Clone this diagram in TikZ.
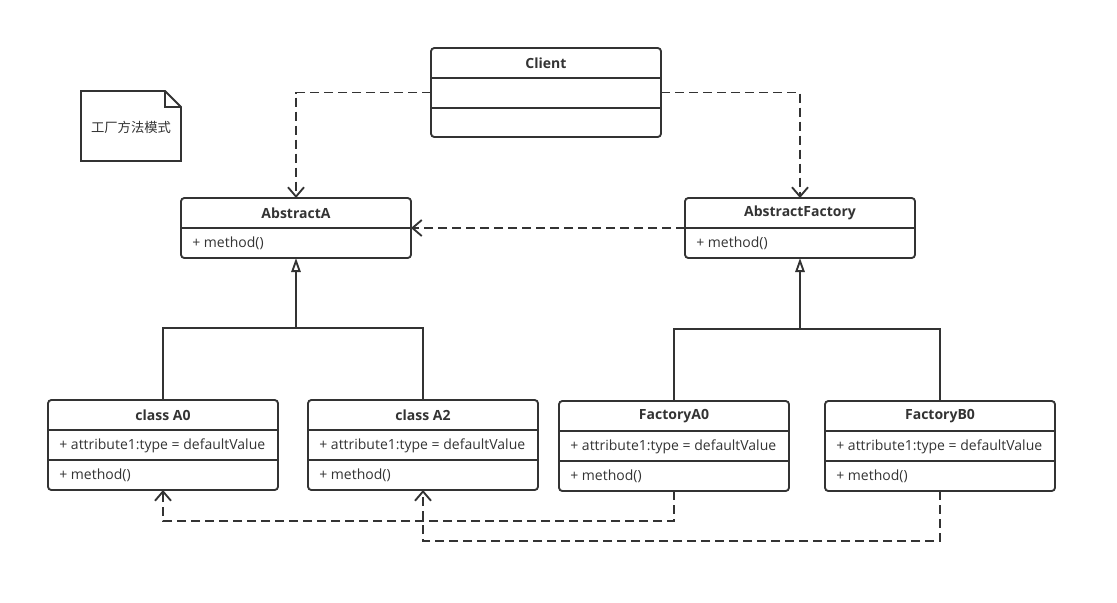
\documentclass[tikz,border=0pt]{standalone}
\usepackage{fontspec}
\setmainfont{Open Sans}
\newfontfamily\cjk{Noto Sans CJK SC}
\usetikzlibrary{arrows.meta,positioning}
\definecolor{umlline}{HTML}{333333}

\begin{document}
\begin{tikzpicture}[
			x = 0.75pt, y = -0.75pt,
			every node/.style = {inner sep = 0pt, outer sep = 0pt, text = umlline},
			classbox/.style = {draw = umlline, line width = 1.4pt, rounded corners = 2.5pt,
				anchor = north west, minimum width = 172.5pt},
			title/.style = {font = \fontsize{10.5}{12}\selectfont\bfseries},
			member/.style = {font = \fontsize{10.5}{12}\selectfont, anchor = west},
			sep/.style = {umlline, line width = 1.4pt},
			dep/.style = {sep, dash pattern = on 7pt off 3.5pt,
				-{Straight Barb[length = 7pt, width = 12pt, line width = 1.4pt]}},
			gen/.style = {sep, -{Triangle[open, length = 10.5pt, width = 7pt, line width = 1.4pt]}}
			]

			\useasboundingbox (0,0) rectangle (1117,603);

			% note
			\draw[sep] (81,91) -- (165,91) -- (181,107) -- (181,161) -- (81,161) -- cycle;
			\draw[sep] (165,91) -- (165,107) -- (181,107);
			\node[font = \cjk\fontsize{10}{12}\selectfont] (note) at (131,127) {工厂方法模式};

			% client
			\node[classbox, minimum height = 66.75pt] (client) at (431,48) {};
			\node[title] at ([yshift = -11.5pt]client.north) {Client};
			\draw[sep] ([yshift = -22.5pt]client.north west) -- ([yshift = -22.5pt]client.north east);
			\draw[sep] ([yshift = -45pt]client.north west) -- ([yshift = -45pt]client.north east);

			% abstract classes
			\foreach \n/\x/\t in {abstractA/181/AbstractA, factory/685/AbstractFactory}{
				\node[classbox, minimum height = 45pt] (\n) at (\x,198) {};
				\node[title] at ([yshift = -11.5pt]\n.north) {\t};
				\draw[sep] ([yshift = -22.5pt]\n.north west) -- ([yshift = -22.5pt]\n.north east);
				\node[member] at ([xshift = 8.5pt, yshift = -34pt]\n.north west) {+ method()};
			}

			% concrete classes
			\foreach \n/\x/\y/\t in {a0/48/400/class A0, a2/308/400/class A2,
				fa0/559/401/FactoryA0, fb0/825/401/FactoryB0}{
				\node[classbox, minimum height = 67.5pt] (\n) at (\x,\y) {};
				\node[title] at ([yshift = -11.5pt]\n.north) {\t};
				\draw[sep] ([yshift = -22.5pt]\n.north west) -- ([yshift = -22.5pt]\n.north east);
				\draw[sep] ([yshift = -45pt]\n.north west) -- ([yshift = -45pt]\n.north east);
				\node[member] at ([xshift = 8.5pt, yshift = -34pt]\n.north west) {+ attribute1:type = defaultValue};
				\node[member] at ([xshift = 8.5pt, yshift = -56.5pt]\n.north west) {+ method()};
			}

			% dependencies
			\draw[dep] (client.west) -| (abstractA.north);
			\draw[dep] (client.east) -| (factory.north);
			\draw[dep] (factory.west) -- (abstractA.east);
			\draw[dep] (fa0.south) -- ++(0,30) -| (a0.south);
			\draw[dep] (fb0.south) -- ++(0,50) -| (a2.south);

			% generalisations
			\coordinate[below = 52.5pt of abstractA.south] (joinA);
			\coordinate[below = 53.25pt of factory.south] (joinF);
			\draw[sep] (a0.north) |- (joinA) -| (a2.north);
			\draw[sep] (fa0.north) |- (joinF) -| (fb0.north);
			\draw[gen] (joinA) -- (abstractA.south);
			\draw[gen] (joinF) -- (factory.south);

		\end{tikzpicture}
\end{document}
